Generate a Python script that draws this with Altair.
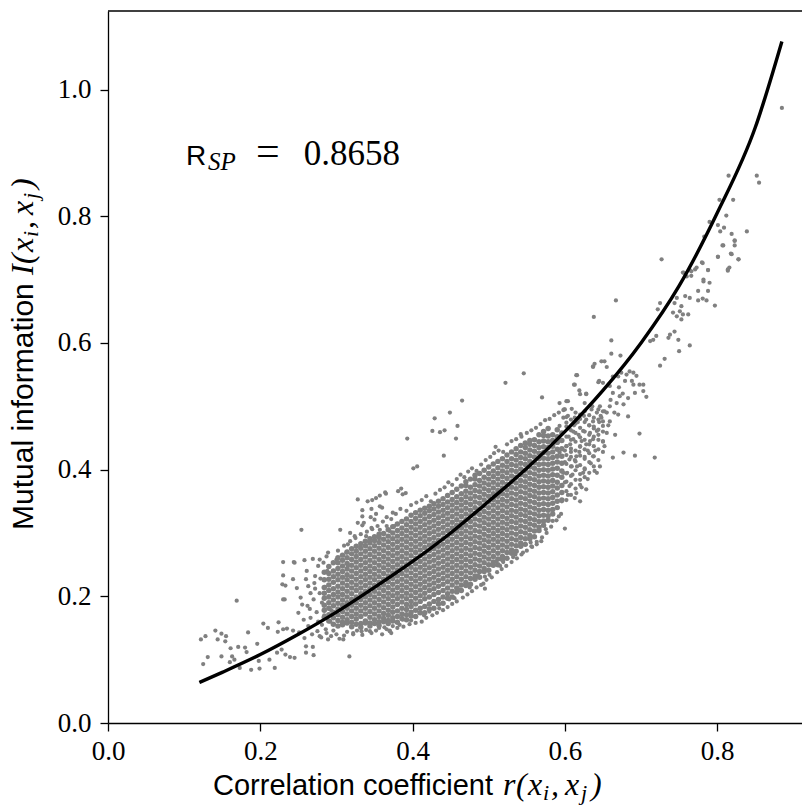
import altair as alt
import pandas as pd

# ---------------- data ----------------
# fitted curve  I(r)
curve_r = [0.12, 0.15, 0.20, 0.25, 0.30, 0.35, 0.40, 0.45, 0.50, 0.55, 0.60, 0.65, 0.70, 0.75, 0.80, 0.85, 0.885]
curve_I = [0.064, 0.080, 0.108, 0.140, 0.175, 0.214, 0.255, 0.300, 0.350, 0.402, 0.460, 0.525, 0.600, 0.690, 0.805, 0.940, 1.076]

# sparse points, low-r tail
left_pts = [(0.122,0.132),(0.128,0.137),(0.131,0.104),(0.125,0.093),(0.141,0.146),(0.149,0.141),(0.155,0.137),
    (0.144,0.132),(0.154,0.129),(0.161,0.118),(0.149,0.105),(0.163,0.105),(0.171,0.120),(0.169,0.193),(0.180,0.119),
    (0.184,0.143),(0.182,0.112),(0.166,0.100),(0.160,0.096),(0.173,0.087),(0.188,0.084),(0.196,0.125),(0.199,0.086),
    (0.204,0.157),(0.210,0.150),(0.198,0.098),(0.212,0.100),(0.219,0.087),(0.222,0.111),(0.224,0.159),(0.223,0.144),
    (0.230,0.148),(0.228,0.116),(0.233,0.108),(0.239,0.104),(0.235,0.149),(0.243,0.146),(0.245,0.103),(0.250,0.174),
    (0.251,0.143),(0.258,0.134),(0.260,0.121),(0.260,0.111),(0.269,0.120),(0.270,0.107),(0.263,0.153),(0.266,0.166),
    (0.257,0.163),(0.230,0.195),(0.233,0.217),(0.230,0.233),(0.230,0.254),(0.243,0.227),(0.245,0.253),(0.254,0.305),
    (0.258,0.257),(0.261,0.240),(0.248,0.213),(0.253,0.198),(0.255,0.187),(0.260,0.227),(0.263,0.216),(0.271,0.221),
    (0.269,0.259),(0.278,0.258),(0.276,0.248),(0.287,0.263),(0.283,0.253),(0.244,0.254),(0.229,0.219),(0.232,0.195),
    (0.265,0.180),(0.270,0.195),(0.274,0.175),(0.278,0.205),(0.281,0.190),(0.284,0.170),(0.272,0.232),(0.279,0.228),
    (0.285,0.215),(0.288,0.240),(0.275,0.145),(0.281,0.155),(0.286,0.148),(0.268,0.140),(0.292,0.160),(0.276,0.160),
    (0.266,0.205),(0.262,0.185),(0.272,0.212),(0.290,0.200),(0.293,0.178),(0.280,0.135),(0.289,0.132)]

# scattered points around the dense band
halo_pts = [(0.305,0.305),(0.315,0.282),(0.328,0.353),(0.334,0.336),(0.334,0.326),(0.336,0.316),(0.341,0.350),
    (0.347,0.352),(0.352,0.355),(0.357,0.359),(0.364,0.364),(0.346,0.338),(0.346,0.308),(0.339,0.295),(0.324,0.295),
    (0.328,0.316),(0.357,0.305),(0.366,0.311),(0.374,0.332),(0.381,0.366),(0.357,0.342),(0.350,0.321),(0.339,0.279),
    (0.313,0.269),(0.300,0.258),(0.289,0.269),(0.315,0.248),(0.376,0.311),(0.370,0.303),
    (0.317,0.105),(0.278,0.137),(0.287,0.142),(0.293,0.137),(0.304,0.133),(0.309,0.132),(0.322,0.142),(0.333,0.145),
    (0.344,0.145),(0.352,0.146),(0.370,0.146),
    (0.546,0.552),(0.522,0.537),(0.570,0.514),(0.465,0.509),(0.449,0.490),(0.429,0.481),(0.426,0.461),(0.436,0.459),
    (0.442,0.462),(0.459,0.469),(0.457,0.449),(0.393,0.449),(0.441,0.422),(0.401,0.402),(0.406,0.405),(0.509,0.436),
    (0.542,0.456),(0.365,0.362),(0.385,0.370),(0.387,0.361),(0.391,0.363),(0.600,0.307),(0.615,0.549),(0.637,0.563),
    (0.612,0.534),(0.619,0.525),(0.593,0.505),(0.604,0.508),(0.599,0.495),(0.628,0.519),(0.644,0.538),
    (0.495,0.212),(0.493,0.220),(0.462,0.211),(0.448,0.195),(0.422,0.176),(0.409,0.174),(0.370,0.145),(0.374,0.153),
    (0.383,0.155),(0.387,0.163),(0.569,0.287),(0.563,0.282),(0.556,0.279),(0.545,0.269),(0.532,0.262),(0.519,0.254),
    (0.510,0.255),(0.501,0.234),(0.486,0.233),(0.584,0.319),(0.596,0.350),(0.613,0.355),(0.620,0.350),(0.628,0.369),
    (0.642,0.395),
    (0.372,0.322),(0.378,0.330),(0.384,0.338),(0.392,0.335),(0.398,0.344),(0.405,0.348),(0.412,0.352),(0.418,0.358),
    (0.424,0.350),(0.430,0.362),(0.436,0.368),(0.442,0.372),(0.447,0.380),(0.452,0.376),(0.458,0.385),(0.463,0.392),
    (0.468,0.388),(0.473,0.397),(0.478,0.402),(0.484,0.398),(0.490,0.408),(0.496,0.415),(0.502,0.420),(0.507,0.426),
    (0.513,0.430),(0.519,0.428),(0.524,0.440),(0.530,0.445),(0.536,0.448),(0.543,0.452),(0.550,0.458),(0.556,0.462),
    (0.562,0.466),(0.568,0.472),(0.574,0.478),(0.580,0.480),(0.586,0.486),(0.592,0.490),(0.598,0.494),
    (0.302,0.272),(0.310,0.280),(0.318,0.287),(0.325,0.292),(0.332,0.298),(0.340,0.302),(0.347,0.306),(0.354,0.311),
    (0.361,0.318),(0.366,0.325),(0.318,0.300),(0.334,0.312),(0.352,0.330),(0.360,0.340),(0.345,0.325),
    (0.360,0.140),(0.366,0.148),(0.372,0.142),(0.380,0.150),(0.388,0.152),(0.396,0.156),(0.404,0.158),(0.412,0.160),
    (0.418,0.166),(0.426,0.170),(0.432,0.174),(0.440,0.178),(0.446,0.183),(0.452,0.188),(0.458,0.192),(0.466,0.198),
    (0.472,0.203),(0.478,0.208),(0.484,0.214),(0.490,0.218),(0.497,0.226),(0.504,0.230),(0.511,0.238),(0.517,0.243),
    (0.523,0.248),(0.530,0.254),(0.537,0.260),(0.543,0.266),(0.550,0.272),(0.557,0.278),(0.563,0.286),(0.570,0.293),
    (0.576,0.300),(0.582,0.310),(0.589,0.320),(0.595,0.330),(0.300,0.140),(0.310,0.138),(0.322,0.140),(0.334,0.139),
    (0.346,0.142),(0.296,0.146),(0.314,0.144),(0.327,0.146),(0.339,0.147),(0.356,0.150),(0.363,0.151),
    (0.398,0.162),(0.415,0.170),(0.435,0.181),(0.455,0.197),(0.475,0.214),(0.495,0.231),(0.515,0.248),(0.535,0.266),
    (0.555,0.285),(0.575,0.306),(0.592,0.326)]

# medium-density tail of the band just beyond the dense core (r, list of I)
tail_r = [0.602, 0.608, 0.614, 0.620, 0.626, 0.632, 0.638, 0.644, 0.650]
tail_I = [
    [0.352,0.366,0.381,0.394,0.409,0.423,0.437,0.452,0.468,0.483],
    [0.360,0.377,0.390,0.405,0.420,0.433,0.447,0.462,0.479],
    [0.370,0.384,0.399,0.413,0.430,0.444,0.458,0.473,0.490],
    [0.376,0.393,0.407,0.422,0.436,0.451,0.466,0.480],
    [0.388,0.402,0.417,0.432,0.447,0.460,0.475,0.492],
    [0.395,0.412,0.426,0.440,0.455,0.470,0.486],
    [0.405,0.421,0.437,0.452,0.468,0.482],
    [0.415,0.432,0.447,0.463,0.479,0.495],
    [0.428,0.444,0.460,0.476,0.492],
]

# medium / sparse points at high r
right_pts = [(0.727,0.732),(0.667,0.667),(0.638,0.641),(0.661,0.604),(0.661,0.583),(0.673,0.580),(0.637,0.562),
    (0.639,0.567),(0.648,0.571),(0.652,0.571),(0.655,0.562),(0.616,0.549),(0.613,0.534),(0.620,0.519),(0.628,0.520),
    (0.602,0.508),(0.600,0.495),(0.609,0.496),(0.613,0.482),(0.593,0.469),(0.602,0.474),(0.626,0.505),(0.635,0.495),
    (0.636,0.500),(0.645,0.540),(0.650,0.537),(0.663,0.547),(0.670,0.547),(0.659,0.532),(0.674,0.553),(0.681,0.550),
    (0.685,0.555),(0.690,0.553),(0.679,0.540),(0.690,0.534),(0.698,0.534),(0.703,0.534),(0.703,0.524),(0.707,0.515),
    (0.692,0.521),(0.683,0.513),(0.672,0.516),(0.663,0.521),(0.668,0.505),(0.677,0.503),(0.683,0.484),(0.670,0.487),
    (0.659,0.500),(0.655,0.490),(0.646,0.500),(0.642,0.490),(0.648,0.482),(0.637,0.476),(0.628,0.479),(0.620,0.487),
    (0.659,0.476),(0.650,0.469),(0.642,0.461),(0.633,0.458),(0.624,0.461),(0.655,0.458),(0.637,0.448),(0.628,0.440),
    (0.652,0.437),(0.663,0.419),(0.677,0.427),(0.692,0.422),(0.718,0.419),(0.698,0.457),(0.716,0.605),(0.720,0.611),
    (0.712,0.603),(0.725,0.663),(0.722,0.653),(0.736,0.608),(0.738,0.613),(0.744,0.618),(0.749,0.605),(0.750,0.587),
    (0.764,0.596),(0.725,0.564),(0.731,0.575),(0.742,0.648),(0.747,0.642),(0.751,0.650),(0.755,0.645),(0.762,0.645),
    (0.753,0.637),(0.753,0.658),(0.758,0.674),(0.764,0.671),(0.747,0.671),(0.744,0.663),(0.756,0.711),(0.760,0.705),
    (0.766,0.713),(0.771,0.716),(0.781,0.726),(0.788,0.715),(0.782,0.697),(0.790,0.695),(0.775,0.682),(0.788,0.682),
    (0.775,0.667),(0.781,0.670),(0.786,0.667),(0.797,0.659),(0.808,0.754),(0.801,0.736),(0.819,0.740),(0.828,0.732),
    (0.814,0.716),(0.823,0.761),(0.637,0.421),(0.620,0.437),(0.611,0.448),(0.602,0.437),(0.615,0.421),(0.606,0.416),
    (0.626,0.400),(0.639,0.398),(0.646,0.405),(0.620,0.384),(0.606,0.374),(0.615,0.363),(0.598,0.395),(0.593,0.427),
    (0.593,0.448),(0.604,0.360),(0.610,0.392),(0.616,0.405),(0.622,0.372),(0.630,0.385),(0.634,0.410),(0.640,0.430),
    (0.608,0.428),(0.618,0.455),(0.626,0.420),(0.600,0.380),(0.612,0.470),(0.605,0.452),(0.622,0.445),(0.632,0.470),
    (0.644,0.455),(0.650,0.445),(0.647,0.485),(0.657,0.470),(0.666,0.455),(0.600,0.412),
    (0.603,0.395),(0.609,0.405),(0.607,0.440),(0.613,0.415),(0.619,0.428),(0.624,0.395),(0.630,0.430),(0.633,0.445),
    (0.638,0.465),(0.611,0.460),(0.617,0.475),(0.625,0.485),(0.604,0.485),(0.645,0.475),(0.652,0.492),(0.660,0.510),
    (0.665,0.490),(0.671,0.530),(0.676,0.520),(0.688,0.540),(0.694,0.548),(0.600,0.430),(0.606,0.465),(0.598,0.482),
    (0.885,0.971),(0.852,0.864),(0.855,0.853),(0.815,0.864),(0.803,0.826),(0.821,0.826),(0.812,0.801),(0.790,0.791),
    (0.801,0.786),(0.809,0.782),(0.804,0.776),(0.819,0.772),(0.839,0.776),(0.823,0.762),(0.823,0.754),(0.807,0.754),
    (0.818,0.741),(0.828,0.732),(0.801,0.736),(0.780,0.727),(0.773,0.719),(0.788,0.715),(0.816,0.719),(0.814,0.714),
    (0.764,0.715),(0.766,0.706),(0.755,0.711),(0.782,0.700),(0.783,0.768)]

# dense core, one column of values per r position
core_r = [0.284,0.290,0.296,0.302,0.308,0.314,0.320,0.326,0.332,0.338,0.344,0.350,0.356,0.362,0.368,0.374,0.380,
    0.386,0.392,0.398,0.404,0.410,0.416,0.422,0.428,0.434,0.440,0.446,0.452,0.458,0.464,0.470,0.476,0.482,0.488,
    0.494,0.500,0.506,0.512,0.518,0.524,0.530,0.536,0.542,0.548,0.554,0.560,0.566,0.572,0.578,0.584,0.590,0.596]
core_I = [
    [0.167,0.178,0.186,0.197,0.205,0.214,0.226,0.238],
    [0.161,0.171,0.181,0.190,0.199,0.209,0.218,0.227,0.236,0.247],
    [0.156,0.166,0.175,0.185,0.194,0.203,0.212,0.222,0.231,0.240,0.253],
    [0.153,0.162,0.171,0.180,0.189,0.199,0.207,0.216,0.226,0.235,0.244,0.253,0.261],
    [0.155,0.159,0.167,0.176,0.186,0.194,0.203,0.212,0.221,0.230,0.239,0.248,0.257,0.265],
    [0.158,0.163,0.172,0.181,0.190,0.199,0.208,0.217,0.226,0.234,0.243,0.252,0.261,0.270],
    [0.152,0.159,0.168,0.177,0.186,0.195,0.204,0.213,0.222,0.231,0.240,0.249,0.258,0.267,0.275],
    [0.156,0.164,0.172,0.181,0.190,0.199,0.209,0.218,0.227,0.236,0.245,0.254,0.263,0.271,0.279],
    [0.151,0.157,0.168,0.177,0.186,0.195,0.204,0.213,0.222,0.231,0.240,0.249,0.258,0.267,0.276,0.283],
    [0.158,0.161,0.172,0.181,0.190,0.199,0.208,0.217,0.226,0.235,0.244,0.253,0.262,0.271,0.280,0.287],
    [0.153,0.158,0.167,0.176,0.185,0.194,0.203,0.212,0.221,0.230,0.239,0.248,0.257,0.266,0.275,0.284,0.291],
    [0.157,0.163,0.172,0.181,0.190,0.199,0.208,0.217,0.226,0.235,0.244,0.253,0.262,0.271,0.280,0.288,0.294],
    [0.154,0.160,0.168,0.177,0.186,0.195,0.204,0.213,0.222,0.231,0.240,0.249,0.258,0.267,0.276,0.285,0.293,0.298],
    [0.160,0.165,0.173,0.182,0.191,0.200,0.209,0.218,0.227,0.236,0.245,0.254,0.263,0.272,0.281,0.290,0.299],
    [0.157,0.162,0.170,0.178,0.187,0.196,0.205,0.214,0.223,0.232,0.241,0.250,0.259,0.268,0.277,0.286,0.295,0.305],
    [0.161,0.166,0.175,0.183,0.192,0.201,0.210,0.219,0.228,0.237,0.246,0.255,0.264,0.273,0.282,0.291,0.300,0.310],
    [0.159,0.168,0.177,0.187,0.196,0.205,0.214,0.223,0.232,0.241,0.250,0.259,0.268,0.277,0.286,0.295,0.304,0.314],
    [0.165,0.172,0.181,0.191,0.200,0.209,0.218,0.227,0.236,0.245,0.254,0.263,0.272,0.281,0.290,0.299,0.308,0.318],
    [0.163,0.171,0.179,0.187,0.196,0.205,0.214,0.223,0.232,0.241,0.250,0.259,0.268,0.277,0.286,0.295,0.304,0.313,0.322],
    [0.169,0.175,0.184,0.192,0.201,0.210,0.219,0.228,0.237,0.246,0.255,0.264,0.273,0.282,0.291,0.300,0.309,0.318,0.328],
    [0.168,0.178,0.188,0.197,0.206,0.215,0.224,0.233,0.242,0.251,0.260,0.269,0.278,0.287,0.296,0.305,0.314,0.323,0.332],
    [0.174,0.181,0.192,0.201,0.210,0.219,0.228,0.237,0.246,0.255,0.264,0.273,0.282,0.291,0.300,0.309,0.318,0.327,0.336],
    [0.174,0.184,0.196,0.205,0.214,0.223,0.232,0.241,0.250,0.259,0.268,0.277,0.286,0.295,0.304,0.313,0.322,0.331,0.339],
    [0.180,0.188,0.199,0.209,0.218,0.227,0.236,0.245,0.254,0.263,0.272,0.281,0.290,0.299,0.308,0.317,0.326,0.335,0.342],
    [0.181,0.192,0.203,0.212,0.221,0.230,0.239,0.248,0.257,0.266,0.275,0.284,0.293,0.302,0.311,0.320,0.329,0.338,0.346],
    [0.188,0.195,0.206,0.216,0.225,0.234,0.243,0.252,0.261,0.270,0.279,0.288,0.297,0.306,0.315,0.324,0.333,0.342,0.350],
    [0.189,0.199,0.209,0.219,0.228,0.237,0.246,0.255,0.264,0.273,0.282,0.291,0.300,0.309,0.318,0.327,0.336,0.345,0.354],
    [0.197,0.204,0.213,0.223,0.232,0.241,0.250,0.259,0.268,0.277,0.286,0.295,0.304,0.313,0.322,0.331,0.340,0.349,0.359],
    [0.199,0.208,0.218,0.227,0.236,0.245,0.254,0.263,0.272,0.281,0.290,0.299,0.308,0.317,0.326,0.335,0.344,0.353,0.364],
    [0.207,0.213,0.222,0.231,0.240,0.249,0.258,0.267,0.276,0.285,0.294,0.303,0.312,0.321,0.330,0.339,0.348,0.357,0.369],
    [0.209,0.218,0.227,0.236,0.245,0.254,0.263,0.272,0.281,0.290,0.299,0.308,0.317,0.326,0.335,0.344,0.353,0.362,0.374],
    [0.217,0.222,0.231,0.240,0.249,0.258,0.267,0.276,0.285,0.294,0.303,0.312,0.321,0.330,0.339,0.348,0.357,0.366,0.375,0.381],
    [0.219,0.228,0.237,0.246,0.255,0.264,0.273,0.282,0.291,0.300,0.309,0.318,0.327,0.336,0.345,0.354,0.363,0.372,0.385],
    [0.227,0.232,0.241,0.250,0.259,0.268,0.277,0.286,0.295,0.304,0.313,0.322,0.331,0.340,0.349,0.358,0.367,0.376,0.385,0.391],
    [0.230,0.239,0.248,0.257,0.266,0.275,0.284,0.293,0.302,0.311,0.320,0.329,0.338,0.347,0.356,0.365,0.374,0.383,0.394],
    [0.239,0.244,0.253,0.262,0.271,0.280,0.289,0.298,0.307,0.316,0.325,0.334,0.343,0.352,0.361,0.370,0.379,0.388,0.399],
    [0.241,0.250,0.259,0.268,0.277,0.286,0.295,0.304,0.313,0.322,0.331,0.340,0.349,0.358,0.367,0.376,0.385,0.394,0.404],
    [0.249,0.254,0.263,0.272,0.281,0.290,0.299,0.308,0.317,0.326,0.335,0.344,0.353,0.362,0.371,0.380,0.389,0.398,0.409],
    [0.250,0.259,0.268,0.277,0.286,0.295,0.304,0.313,0.322,0.331,0.340,0.349,0.358,0.367,0.376,0.385,0.394,0.403,0.413],
    [0.258,0.263,0.272,0.281,0.290,0.299,0.308,0.317,0.326,0.335,0.344,0.353,0.362,0.371,0.380,0.389,0.398,0.407,0.417],
    [0.260,0.269,0.278,0.287,0.296,0.305,0.314,0.323,0.332,0.341,0.350,0.359,0.368,0.377,0.386,0.395,0.404,0.413,0.423],
    [0.268,0.273,0.282,0.291,0.300,0.309,0.318,0.327,0.336,0.345,0.354,0.363,0.372,0.381,0.390,0.399,0.408,0.417,0.428],
    [0.271,0.280,0.289,0.298,0.307,0.316,0.325,0.334,0.343,0.352,0.361,0.370,0.379,0.388,0.397,0.406,0.415,0.424,0.433],
    [0.279,0.284,0.293,0.302,0.311,0.320,0.329,0.338,0.347,0.356,0.365,0.374,0.383,0.392,0.401,0.410,0.419,0.428,0.438],
    [0.282,0.291,0.300,0.309,0.318,0.327,0.336,0.345,0.354,0.363,0.372,0.381,0.390,0.399,0.408,0.417,0.426,0.435,0.442],
    [0.291,0.296,0.305,0.314,0.323,0.332,0.341,0.350,0.359,0.368,0.377,0.386,0.395,0.404,0.413,0.422,0.431,0.440,0.446],
    [0.294,0.303,0.312,0.321,0.330,0.339,0.348,0.357,0.366,0.375,0.384,0.393,0.402,0.411,0.420,0.429,0.438,0.447],
    [0.304,0.309,0.318,0.327,0.336,0.345,0.354,0.363,0.372,0.381,0.390,0.399,0.408,0.417,0.426,0.435,0.444,0.455],
    [0.312,0.319,0.328,0.337,0.346,0.355,0.364,0.373,0.382,0.391,0.400,0.409,0.418,0.427,0.436,0.445,0.454,0.460],
    [0.320,0.327,0.336,0.345,0.354,0.363,0.372,0.381,0.390,0.399,0.408,0.417,0.426,0.435,0.444,0.453,0.465],
    [0.330,0.337,0.347,0.356,0.365,0.374,0.383,0.392,0.401,0.410,0.419,0.428,0.437,0.446,0.455],
    [0.340,0.350,0.360,0.371,0.380,0.391,0.402,0.412,0.421,0.432,0.443,0.452,0.463],
    [0.352,0.364,0.375,0.388,0.398,0.410,0.421,0.433,0.446,0.458],
]

x_ticks = [0.0, 0.2, 0.4, 0.6, 0.8]
y_ticks = [0.0, 0.2, 0.4, 0.6, 0.8, 1.0]

# ---------------- tables ----------------
tail_pts = [(tr, v) for tr, ys in zip(tail_r, tail_I) for v in ys]
scatter_df = pd.DataFrame(left_pts + halo_pts + right_pts + tail_pts, columns=["r", "I"])
core_df = pd.DataFrame([(cr, v) for cr, ys in zip(core_r, core_I) for v in ys], columns=["r", "I"])
curve_df = pd.DataFrame({"r": curve_r, "I": curve_I})

W, H = 694, 712
OX, OY = 108, 11          # plot-area origin on the page
XMAX, YMAX = 0.9114, 1.1240

xscale = alt.Scale(domain=[0, XMAX], nice=False, zero=False)
yscale = alt.Scale(domain=[0, YMAX], nice=False, zero=False)
xaxis = alt.Axis(values=x_ticks, format=".1f", title=None, grid=False, labelFont="Liberation Serif",
                 labelFontSize=27, labelColor="black", tickColor="black", tickSize=8, tickWidth=1.3,
                 domainColor="black", domainWidth=1.3, labelPadding=7, labelFlush=False)
yaxis = alt.Axis(values=y_ticks, format=".1f", title=None, grid=False, labelFont="Liberation Serif",
                 labelFontSize=27, labelColor="black", tickColor="black", tickSize=8, tickWidth=1.3,
                 domainColor="black", domainWidth=1.3, labelPadding=9, labelFlush=False)

points = alt.Chart(scatter_df).mark_circle(size=18, color="#808080", opacity=1).encode(
    x=alt.X("r:Q", scale=xscale, axis=xaxis),
    y=alt.Y("I:Q", scale=yscale, axis=yaxis),
)
core = alt.Chart(core_df).mark_circle(size=30, color="#808080", opacity=1).encode(
    x=alt.X("r:Q", scale=xscale), y=alt.Y("I:Q", scale=yscale)
)
line = alt.Chart(curve_df).mark_line(color="black", strokeWidth=3.4, interpolate="monotone").encode(
    x=alt.X("r:Q", scale=xscale), y=alt.Y("I:Q", scale=yscale)
)
top_frame = alt.Chart(pd.DataFrame({"k": [0]})).mark_rule(color="black", strokeWidth=1.3).encode(
    x=alt.value(0), x2=alt.value(W), y=alt.value(0)
)


def label(text, px, py, font, size, style="normal", angle=0, align="left"):
    return alt.Chart(pd.DataFrame({"t": [text]})).mark_text(
        font=font, fontSize=size, fontStyle=style, angle=angle, align=align,
        baseline="alphabetic", color="black"
    ).encode(text="t:N", x=alt.value(px - OX), y=alt.value(py - OY))


SANS, SERIF = "Liberation Sans", "Liberation Serif"
MS, SS = 32, 22   # math size, subscript size
XB = 795          # x-title baseline (page px)

# x-axis title: sans words, then r(x_i, x_j) glyph by glyph
x_math = [("r", 503, 0), ("(", 516, 0), ("x", 528, 0), ("i", 543, 1), (",", 551, 0),
          ("x", 565, 0), ("j", 581, 1), (")", 591, 0)]
# y-axis title: sans words, then I(x_i, x_j) glyph by glyph (rotated, going up)
y_math = [("I", 275, 0), ("(", 264, 0), ("x", 252, 0), ("i", 237, 1), (",", 229, 0),
          ("x", 215, 0), ("j", 199, 1), (")", 189, 0)]

texts = [label("Correlation coefficient", 213, XB, SANS, 29)]
for ch, px, sub in x_math:
    texts.append(label(ch, px, XB + (5 if sub else 0), SERIF, SS if sub else MS, "italic"))
texts.append(label("Mutual information", 33, 530, SANS, 30, angle=270))
for ch, py, sub in y_math:
    texts.append(label(ch, 33 + (5 if sub else 0), py, SERIF, SS if sub else MS, "italic", angle=270))

# annotation R_SP = 0.8658
texts += [
    label("R", 186, 165, SANS, 28),
    label("SP", 208, 170, SERIF, 25, "italic"),
    label("=", 256, 165, SERIF, 42),
    label("0.8658", 400, 165, SERIF, 35, align="right"),
]

chart = alt.layer(points, core, line, top_frame, *texts).properties(
    width=W, height=H,
    autosize=alt.AutoSizeParams(type="none"),
    padding={"left": OX, "top": OY, "right": 0, "bottom": 807 - OY - H},
).configure_view(stroke=None)

chart.save("out.html", embed_options={"renderer": "svg", "actions": False})
